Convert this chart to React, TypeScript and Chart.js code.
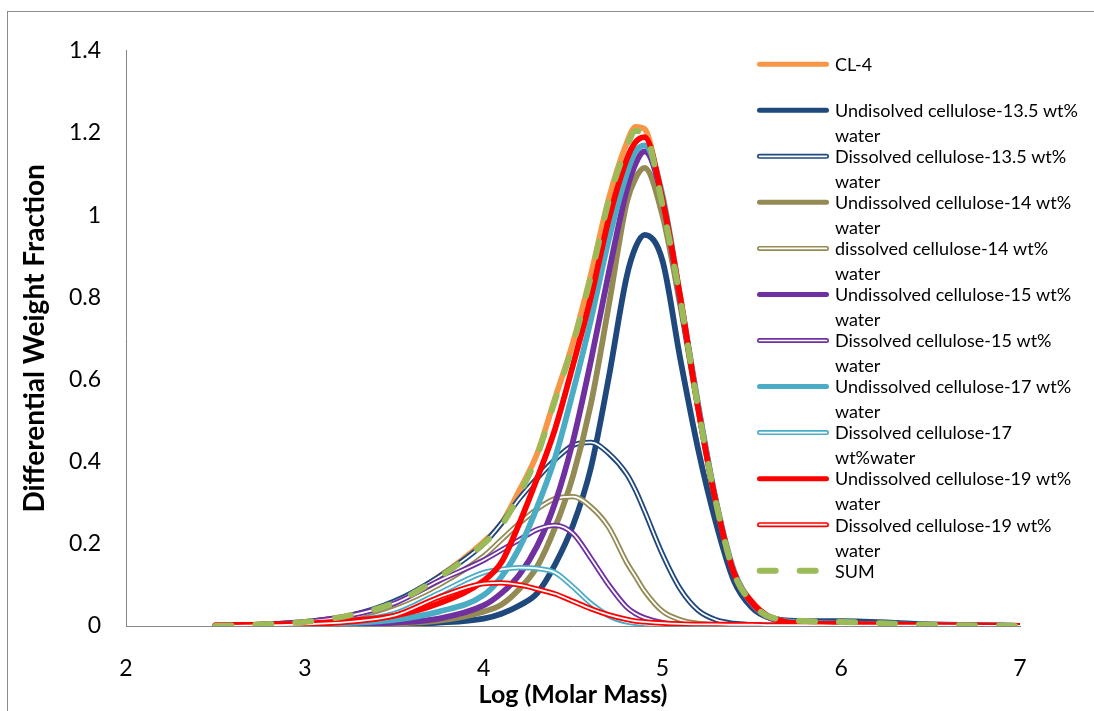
import React, { useEffect, useRef } from "react";
import { Chart, registerables } from "chart.js";
Chart.register(...registerables);

// Log (Molar Mass) sample positions
const logM = [2.5, 3.0, 3.25, 3.5, 3.75, 4.0, 4.1, 4.2, 4.3, 4.4, 4.5, 4.6, 4.7, 4.8, 4.85, 4.9, 5.0, 5.1, 5.2, 5.3, 5.4, 5.5, 5.6, 5.8, 6.0, 6.5, 7.0];

const cl4 = [0, 0.01, 0.025, 0.055, 0.12, 0.205, 0.25, 0.33, 0.42, 0.555, 0.69, 0.855, 1.04, 1.175, 1.215, 1.21, 1.025, 0.8, 0.53, 0.3, 0.125, 0.06, 0.022, 0.01, 0.008, 0.003, 0];
const undis135 = [0, 0.001, 0.002, 0.004, 0.008, 0.018, 0.03, 0.05, 0.08, 0.15, 0.245, 0.385, 0.605, 0.85, 0.922, 0.952, 0.89, 0.65, 0.43, 0.25, 0.11, 0.045, 0.02, 0.012, 0.012, 0.004, 0];
const dis135 = [0, 0.01, 0.025, 0.06, 0.12, 0.2, 0.25, 0.31, 0.36, 0.405, 0.44, 0.447, 0.42, 0.37, 0.33, 0.28, 0.175, 0.09, 0.038, 0.015, 0.006, 0.003, 0.002, 0.001, 0.001, 0, 0];
const undis14 = [0, 0.001, 0.003, 0.006, 0.013, 0.035, 0.052, 0.09, 0.145, 0.24, 0.365, 0.54, 0.78, 1.03, 1.09, 1.115, 1.0, 0.78, 0.53, 0.3, 0.13, 0.055, 0.02, 0.007, 0.005, 0.002, 0];
const dis14 = [0, 0.008, 0.02, 0.05, 0.1, 0.17, 0.21, 0.25, 0.285, 0.31, 0.315, 0.29, 0.24, 0.155, 0.12, 0.085, 0.036, 0.015, 0.006, 0.003, 0.001, 0, 0, 0, 0, 0, 0];
const undis15 = [0, 0.002, 0.004, 0.008, 0.018, 0.05, 0.08, 0.125, 0.195, 0.3, 0.45, 0.645, 0.86, 1.06, 1.125, 1.155, 1.04, 0.79, 0.535, 0.3, 0.13, 0.056, 0.02, 0.007, 0.005, 0.002, 0];
const dis15 = [0, 0.01, 0.025, 0.055, 0.11, 0.16, 0.185, 0.21, 0.235, 0.245, 0.225, 0.165, 0.1, 0.046, 0.03, 0.02, 0.008, 0.003, 0.001, 0, 0, 0, 0, 0, 0, 0, 0];
const undis17 = [0, 0.003, 0.007, 0.015, 0.035, 0.075, 0.12, 0.19, 0.29, 0.41, 0.57, 0.745, 0.94, 1.1, 1.155, 1.17, 1.05, 0.8, 0.54, 0.305, 0.135, 0.058, 0.022, 0.008, 0.006, 0.002, 0];
const dis17 = [0, 0.005, 0.012, 0.03, 0.08, 0.13, 0.138, 0.142, 0.14, 0.13, 0.095, 0.055, 0.025, 0.01, 0.007, 0.004, 0.002, 0.001, 0, 0, 0, 0, 0, 0, 0, 0, 0];
const undis19 = [0.002, 0.006, 0.013, 0.025, 0.055, 0.11, 0.155, 0.25, 0.36, 0.48, 0.635, 0.8, 0.99, 1.135, 1.178, 1.19, 1.04, 0.8, 0.53, 0.3, 0.13, 0.058, 0.022, 0.006, 0.005, 0.002, 0];
const dis19 = [0, 0.004, 0.01, 0.025, 0.07, 0.103, 0.105, 0.1, 0.09, 0.078, 0.06, 0.042, 0.027, 0.016, 0.012, 0.01, 0.007, 0.005, 0.004, 0.004, 0.003, 0.003, 0.002, 0.002, 0.001, 0.001, 0];
const sumCurve = [0, 0.01, 0.026, 0.056, 0.118, 0.2, 0.245, 0.32, 0.415, 0.55, 0.685, 0.85, 1.035, 1.165, 1.205, 1.2, 1.025, 0.795, 0.53, 0.3, 0.13, 0.057, 0.022, 0.012, 0.01, 0.003, 0];

const seriesNames = [
  "CL-4",
  "Undisolved cellulose-13.5 wt%\nwater",
  "Dissolved cellulose-13.5 wt%\nwater",
  "Undissolved cellulose-14 wt%\nwater",
  "dissolved cellulose-14 wt%\nwater",
  "Undissolved cellulose-15 wt%\nwater",
  "Dissolved cellulose-15 wt%\nwater",
  "Undissolved cellulose-17 wt%\nwater",
  "Dissolved cellulose-17\nwt%water",
  "Undissolved cellulose-19 wt%\nwater",
  "Dissolved cellulose-19 wt%\nwater",
  "SUM",
];

const xTickLabels = ["2", "3", "4", "5", "6", "7"];
const yTickLabels = ["0", "0.2", "0.4", "0.6", "0.8", "1", "1.2", "1.4"];

// styles
const seriesColors = ["#F79646", "#1F497D", "#1F497D", "#948A54", "#948A54", "#7030A0", "#7030A0", "#4BACC6", "#4BACC6", "#FF0000", "#FF0000", "#9BBB59"];
const seriesKinds = ["solid", "solid", "double", "solid", "double", "solid", "double", "solid", "double", "solid", "double", "dash"];

export default function App() {
  const ref = useRef<HTMLCanvasElement>(null);

  useEffect(() => {
    document.documentElement.style.overflow = "hidden";
    const canvas = ref.current;
    if (!canvas) return;
    const seriesData = [cl4, undis135, dis135, undis14, dis14, undis15, dis15, undis17, dis17, undis19, dis19, sumCurve];
    const datasets: any[] = [];
    let drawIdx = 0;
    const N = 100;
    seriesData.forEach((vals, i) => {
      const pts = logM.map((x, k) => ({ x, y: vals[k] }));
      const kind = seriesKinds[i];
      const base = {
        data: pts,
        pointRadius: 0,
        pointHoverRadius: 0,
        cubicInterpolationMode: "monotone",
        fill: false,
        borderCapStyle: "round",
        borderJoinStyle: "round",
        label: seriesNames[i],
      };
      if (kind === "dash") {
        datasets.push({ ...base, borderColor: seriesColors[i], borderWidth: 6, borderDash: [16, 24], order: N - drawIdx++ });
      } else if (kind === "double") {
        datasets.push({ ...base, borderColor: seriesColors[i], borderWidth: 5.4, order: N - drawIdx++ });
        datasets.push({ ...base, borderColor: "#FFFFFF", borderWidth: 1.8, order: N - drawIdx++ });
      } else {
        datasets.push({ ...base, borderColor: seriesColors[i], borderWidth: 5.8, order: N - drawIdx++ });
      }
    });

    const legendPlugin = {
      id: "customLegend",
      afterDraw(chart: any) {
        const ctx = chart.ctx as CanvasRenderingContext2D;
        ctx.save();
        ctx.font = "18px Lato";
        ctx.fillStyle = "#000000";
        ctx.textBaseline = "alphabetic";
        ctx.textAlign = "left";
        seriesNames.forEach((name, i) => {
          const baseY = 59 + i * 46.05;
          name.split("\n").forEach((ln, j) => ctx.fillText(ln, 827, baseY + j * 25));
          const sy = baseY - 6.8;
          const kind = seriesKinds[i];
          ctx.lineCap = "round";
          if (kind === "dash") {
            ctx.setLineDash([16, 24]);
            ctx.strokeStyle = seriesColors[i];
            ctx.lineWidth = 6;
            ctx.beginPath();
            ctx.moveTo(751.7, sy);
            ctx.lineTo(819, sy);
            ctx.stroke();
            ctx.setLineDash([]);
          } else {
            ctx.strokeStyle = seriesColors[i];
            ctx.lineWidth = 5;
            ctx.beginPath();
            ctx.moveTo(751.5, sy);
            ctx.lineTo(818.5, sy);
            ctx.stroke();
            if (kind === "double") {
              ctx.strokeStyle = "#FFFFFF";
              ctx.lineWidth = 1.7;
              ctx.beginPath();
              ctx.moveTo(751.5, sy);
              ctx.lineTo(818.5, sy);
              ctx.stroke();
            }
          }
        });
        ctx.restore();
      },
    };

    const chart = new Chart(canvas, {
      type: "line",
      data: { datasets },
      options: {
        responsive: false,
        animation: false,
        devicePixelRatio: 1,
        layout: { padding: { top: 21, right: 74, left: 0, bottom: 0 } },
        plugins: { legend: { display: false }, tooltip: { enabled: false } },
        events: [],
        scales: {
          x: {
            type: "linear",
            min: 2,
            max: 7,
            grid: { display: false, drawTicks: false },
            border: { display: true, color: "#868686", width: 1 },
            ticks: {
              stepSize: 1,
              padding: 29,
              autoSkip: false,
              maxRotation: 0,
              color: "#000000",
              font: { family: "Lato", size: 23 },
              callback: (_v: any, i: number) => xTickLabels[i],
            },
            title: {
              display: true,
              text: "Log (Molar Mass)",
              color: "#000000",
              font: { family: "Lato", size: 25, weight: "bold" },
              padding: { top: 0, bottom: 1 },
            },
            afterFit: (scale: any) => {
              scale.height = 85;
            },
          },
          y: {
            type: "linear",
            min: 0,
            max: 1.4,
            grid: { display: false, drawTicks: false },
            border: { display: true, color: "#868686", width: 1 },
            ticks: {
              stepSize: 0.2,
              padding: 25,
              autoSkip: false,
              color: "#000000",
              font: { family: "Lato", size: 23 },
              callback: (_v: any, i: number) => yTickLabels[i],
            },
            title: {
              display: true,
              text: "Differential Weight Fraction",
              color: "#000000",
              font: { family: "Lato", size: 28, weight: "bold" },
              padding: { top: 10, bottom: 0 },
            },
            afterFit: (scale: any) => {
              scale.width = 118;
            },
          },
        },
      } as any,
      plugins: [legendPlugin],
    });
    return () => chart.destroy();
  }, []);

  return (
    <div
      style={{
        position: "absolute",
        left: 7,
        top: 11,
        width: 1086,
        height: 699,
        borderLeft: "1px solid #8c8c8c",
        borderTop: "1px solid #8c8c8c",
        background: "#ffffff",
      }}
    >
      <canvas ref={ref} width={1086} height={699} style={{ display: "block", width: 1086, height: 699 }} />
    </div>
  );
}
